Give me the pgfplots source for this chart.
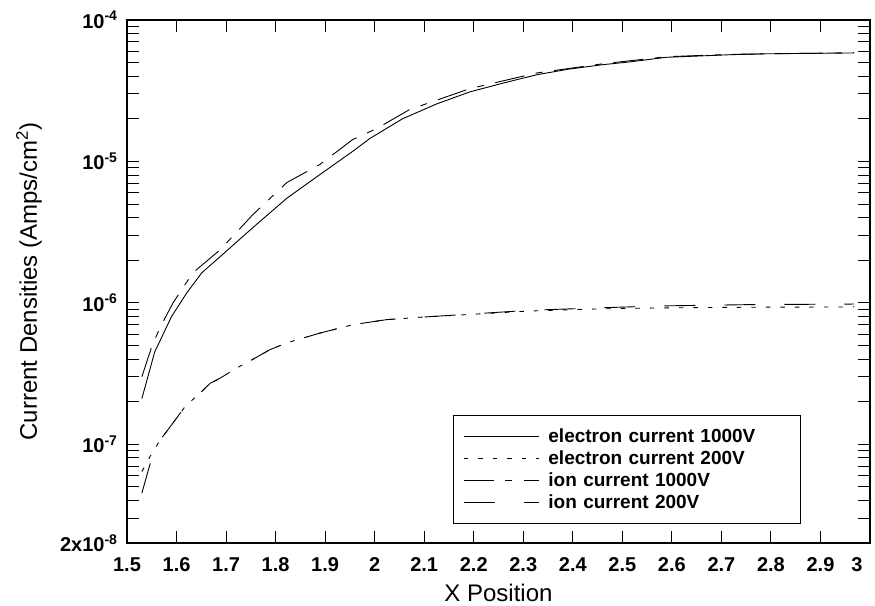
\documentclass[border=0pt]{standalone}
\usepackage{fontspec}
\setmainfont{Liberation Sans}
\usepackage{pgfplots}
\pgfplotsset{compat=1.18}
\begin{document}
\begin{tikzpicture}
\path[use as bounding box] (-127pt,-62pt) rectangle (748pt,543pt);
\begin{axis}[
  scale only axis,
  width=743pt, height=523pt,
  ymode=log,
  xmin=1.5, xmax=3,
  ymin=2e-8, ymax=1e-4,
  axis line style={line width=1.3pt},
  every tick/.style={line width=0.9pt, black},
  major tick length=12pt, minor tick length=12pt,
  xtick={1.5,1.6,1.7,1.8,1.9,2.0,2.1,2.2,2.3,2.4,2.5,2.6,2.7,2.8,2.9},
  xticklabels={1.5,1.6,1.7,1.8,1.9,2,2.1,2.2,2.3,2.4,2.5,2.6,2.7,2.8,2.9},
  extra x ticks={3},
  extra x tick labels={3},
  extra x tick style={xticklabel style={xshift=-13pt}},
  ytick={2e-8,1e-7,1e-6,1e-5,1e-4},
  yticklabels={2x10\textsuperscript{-8},10\textsuperscript{-7},10\textsuperscript{-6},10\textsuperscript{-5},10\textsuperscript{-4}},
  minor ytick={3e-8,4e-8,5e-8,6e-8,7e-8,8e-8,9e-8,
    2e-7,3e-7,4e-7,5e-7,6e-7,7e-7,8e-7,9e-7,
    2e-6,3e-6,4e-6,5e-6,6e-6,7e-6,8e-6,9e-6,
    2e-5,3e-5,4e-5,5e-5,6e-5,7e-5,8e-5,9e-5},
  xticklabel style={font=\bfseries\fontsize{20}{22}\selectfont, yshift=-11pt},
  yticklabel style={font=\bfseries\fontsize{20}{22}\selectfont, xshift=-6pt},
  xlabel={X Position},
  ylabel={Current Densities (Amps/cm\textsuperscript{2})},
  xlabel style={font=\fontsize{24}{26}\selectfont, at={(axis description cs:0.5,0)}, anchor=center, yshift=-50pt},
  ylabel style={font=\fontsize{24}{26}\selectfont, at={(axis description cs:0,0.5)}, anchor=center, yshift=98pt},
  legend style={at={(axis description cs:0.4388,0.0363)}, anchor=south west,
    draw=black, line width=1pt, font=\bfseries\fontsize{19}{21}\selectfont,
    inner xsep=10pt, inner ysep=10pt,
    nodes={inner xsep=0pt, inner ysep=3.4pt}, row sep=0pt,
    /tikz/every odd column/.append style={column sep=9pt},
    /tikz/every even column/.append style={text width=242pt}},
  legend cell align=left,
  legend image code/.code={\draw[#1, line width=0.9pt] (0pt,0pt) -- (75pt,0pt);},
]
% electron current 1000V
\addplot[black, line width=0.9pt] coordinates {
(1.53,2.1e-7) (1.556,4.5e-7) (1.59,8.0e-7) (1.621,1.18e-6) (1.651,1.63e-6)
(1.688,2.12e-6) (1.754,3.4e-6) (1.823,5.5e-6) (1.889,8.05e-6) (1.956,1.18e-5)
(1.99,1.45e-5) (2.056,2.0e-5) (2.125,2.55e-5) (2.192,3.1e-5) (2.258,3.57e-5)
(2.327,4.1e-5) (2.393,4.5e-5) (2.46,4.83e-5) (2.514,5.05e-5) (2.589,5.45e-5)
(2.722,5.69e-5) (2.79,5.77e-5) (2.968,5.85e-5)};
\addlegendentry{electron current 1000V}
% electron current 200V
\addplot[black, line width=0.9pt, dash pattern=on 4.5pt off 10pt] coordinates {
(1.53,6.4e-8) (1.55,8.6e-8) (1.567,1.07e-7) (1.59,1.37e-7) (1.62,1.9e-7)
(1.644,2.23e-7) (1.668,2.7e-7) (1.688,2.93e-7) (1.721,3.45e-7) (1.755,4.0e-7)
(1.788,4.65e-7) (1.822,5.2e-7) (1.889,6.1e-7) (1.956,7.0e-7) (2.024,7.6e-7)
(2.091,7.9e-7) (2.2,8.3e-7) (2.312,8.75e-7) (2.45,9.05e-7) (2.575,9.2e-7)
(2.75,9.3e-7) (2.968,9.35e-7)};
\addlegendentry{electron current 200V}
% ion current 1000V
\addplot[black, line width=0.9pt, dash pattern=on 30pt off 11.5pt on 7pt off 11.5pt] coordinates {
(1.53,3.0e-7) (1.55,4.9e-7) (1.566,6.6e-7) (1.593,1.0e-6) (1.633,1.63e-6)
(1.688,2.37e-6) (1.754,4.2e-6) (1.823,7.1e-6) (1.889,9.5e-6) (1.956,1.43e-5)
(2.003,1.7e-5) (2.07,2.32e-5) (2.192,3.27e-5) (2.327,4.22e-5) (2.46,4.9e-5)
(2.589,5.5e-5) (2.722,5.72e-5) (2.968,5.87e-5)};
\addlegendentry{ion current 1000V}
% ion current 200V
\addplot[black, line width=0.9pt, dash pattern=on 31pt off 29pt] coordinates {
(1.53,4.5e-8) (1.55,8.0e-8) (1.567,1.07e-7) (1.59,1.37e-7) (1.62,1.9e-7)
(1.644,2.23e-7) (1.668,2.7e-7) (1.688,2.93e-7) (1.721,3.45e-7) (1.755,4.0e-7)
(1.788,4.65e-7) (1.822,5.2e-7) (1.889,6.1e-7) (1.956,7.0e-7) (2.024,7.6e-7)
(2.091,7.9e-7) (2.2,8.35e-7) (2.312,8.85e-7) (2.45,9.2e-7) (2.575,9.5e-7)
(2.75,9.7e-7) (2.968,9.8e-7)};
\addlegendentry{ion current 200V}
\end{axis}
\end{tikzpicture}
\end{document}
